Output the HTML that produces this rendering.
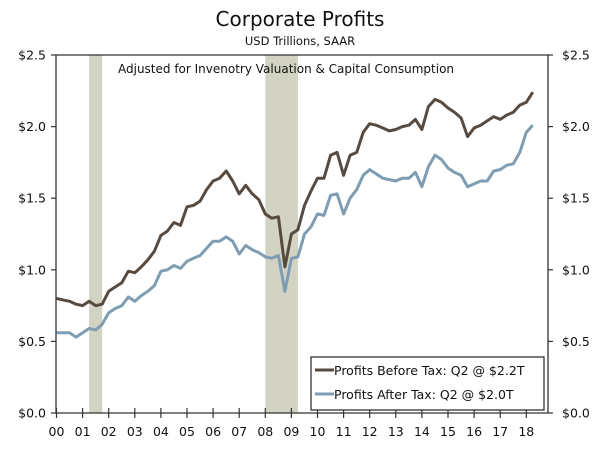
<!DOCTYPE html>
<html><head><meta charset="utf-8"><style>
body{margin:0;background:#fff;}
svg text{font-family:"DejaVu Sans","Liberation Sans",sans-serif;fill:#111;}
</style></head><body>
<svg id="chart" width="600" height="449" viewBox="0 0 600 449">
<text x="300" y="26" text-anchor="middle" font-size="20">Corporate Profits</text>
<text x="300" y="45" text-anchor="middle" font-size="11.5">USD Trillions, SAAR</text>
<g id="bands"></g>
<text x="118" y="73" font-size="12">Adjusted for Invenotry Valuation &amp; Capital Consumption</text>
<g id="axes"></g>
<g id="series"></g>
<g>
<rect x="311" y="357" width="233" height="53" fill="#fff" stroke="#222" stroke-width="1.2"/>
<line x1="315" y1="370" x2="334" y2="370" stroke="#574b41" stroke-width="3"/>
<text x="334" y="375" font-size="12.5">Profits Before Tax: Q2 @ $2.2T</text>
<line x1="315" y1="394" x2="334" y2="394" stroke="#7f9db2" stroke-width="3"/>
<text x="334" y="399" font-size="12.5">Profits After Tax: Q2 @ $2.0T</text>
</g>
</svg>
<script>
const yTicks=[0,0.5,1.0,1.5,2.0,2.5];
const yTickLabels=["$0.0","$0.5","$1.0","$1.5","$2.0","$2.5"];
const xTickLabels=["00","01","02","03","04","05","06","07","08","09","10","11","12","13","14","15","16","17","18"];
const recessionStarts=[1.25,8.0];
const recessionEnds=[1.75,9.25];
const beforeTax=[0.80,0.79,0.78,0.76,0.75,0.78,0.75,0.76,0.85,0.88,0.91,0.99,0.98,1.02,1.07,1.13,1.24,1.27,1.33,1.31,1.44,1.45,1.48,1.56,1.62,1.64,1.69,1.62,1.53,1.59,1.53,1.49,1.39,1.36,1.37,1.02,1.25,1.28,1.45,1.55,1.64,1.64,1.80,1.82,1.66,1.80,1.82,1.96,2.02,2.01,1.99,1.97,1.98,2.00,2.01,2.05,1.98,2.14,2.19,2.17,2.13,2.10,2.06,1.93,1.99,2.01,2.04,2.07,2.05,2.08,2.10,2.15,2.17,2.24];
const afterTax=[0.56,0.56,0.56,0.53,0.56,0.59,0.58,0.62,0.70,0.73,0.75,0.81,0.78,0.82,0.85,0.89,0.99,1.00,1.03,1.01,1.06,1.08,1.10,1.15,1.20,1.20,1.23,1.20,1.11,1.17,1.14,1.12,1.09,1.08,1.10,0.85,1.08,1.09,1.25,1.30,1.39,1.38,1.52,1.53,1.39,1.50,1.56,1.66,1.70,1.67,1.64,1.63,1.62,1.64,1.64,1.68,1.58,1.72,1.80,1.77,1.71,1.68,1.66,1.58,1.60,1.62,1.62,1.69,1.70,1.73,1.74,1.82,1.96,2.01];

const L=56,R=548,T=55,B=413;
const xs=t=>56.5+t*26.1;
const ys=v=>B-(v/2.5)*(B-T);
const NS="http://www.w3.org/2000/svg";
function mk(tag,attrs,parent,txt){const e=document.createElementNS(NS,tag);for(const k in attrs)e.setAttribute(k,attrs[k]);if(txt!==undefined)e.textContent=txt;parent.appendChild(e);return e;}
const bands=document.getElementById('bands');
recessionStarts.forEach((s,i)=>{
  const r=mk('rect',{x:xs(s),y:T,width:xs(recessionEnds[i])-xs(s),height:B-T,fill:'#d3d3c3'},bands);
  
  
});
const ax=document.getElementById('axes');
const a1=mk('path',{d:`M${L},${T}V${B}H${R}V${T}H${L}`,fill:'none',stroke:'#333','stroke-width':1.3},ax);


yTicks.forEach((v,i)=>{
  const y=ys(v);
  mk('line',{x1:L-5,x2:L,y1:y,y2:y,stroke:'#333','stroke-width':1.2},ax);
  mk('line',{x1:R,x2:R+5,y1:y,y2:y,stroke:'#333','stroke-width':1.2},ax);
  const l=mk('text',{x:L-10,y:y+4.5,'text-anchor':'end','font-size':12.5},ax,yTickLabels[i]);
  
  
  const r=mk('text',{x:R+14,y:y+4.5,'font-size':12.5},ax,yTickLabels[i]);
  
  
});
xTickLabels.forEach((s,i)=>{
  const x=xs(i);
  mk('line',{x1:x,x2:x,y1:B-5,y2:B+5,stroke:'#333','stroke-width':1.2},ax);
  const t=mk('text',{x:x,y:B+23,'text-anchor':'middle','font-size':12.5},ax,s);
  
  
});
const sg=document.getElementById('series');
function line(arr,color,name){
  const d=arr.map((v,i)=>(i?'L':'M')+xs(i/4).toFixed(1)+','+ys(v).toFixed(1)).join('');
  const p=mk('path',{d:d,fill:'none',stroke:color,'stroke-width':3,'stroke-linejoin':'round'},sg);
  
  
}
line(afterTax,'#7f9db2','after-tax-line');
line(beforeTax,'#574b41','before-tax-line');
</script>
</body></html>
